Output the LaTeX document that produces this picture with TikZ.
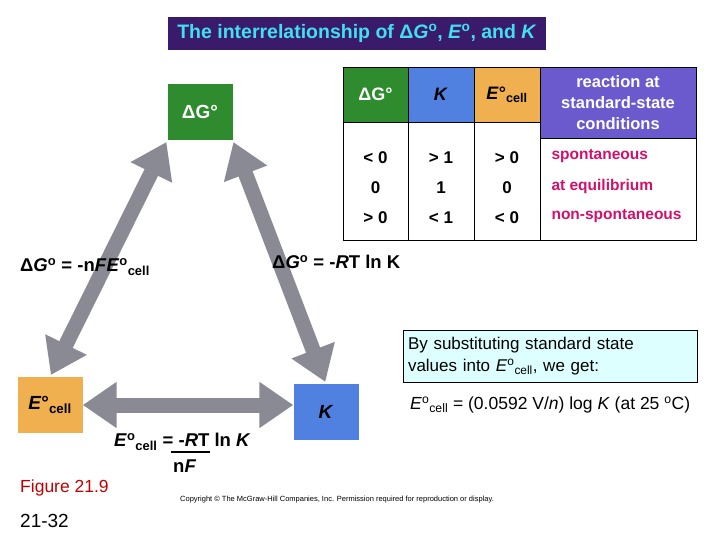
\documentclass[tikz,border=0pt]{standalone}
\usepackage{fontspec}
\setmainfont{Liberation Sans}
\usetikzlibrary{arrows.meta}
\definecolor{ttl}{HTML}{3A1A6A}
\definecolor{ttltxt}{HTML}{40E0F0}
\definecolor{grn}{HTML}{2E8B2E}
\definecolor{blu}{HTML}{5080E0}
\definecolor{org}{HTML}{F0B050}
\definecolor{pur}{HTML}{6A5ACD}
\definecolor{mag}{HTML}{D0106A}
\definecolor{lcy}{HTML}{DDFFFF}
\definecolor{arr}{HTML}{8A8A94}
\begin{document}
\begin{tikzpicture}[x=1pt,y=-1pt,
  box/.style={minimum width=65pt,minimum height=56pt,inner sep=0pt,font=\bfseries\fontsize{19}{21}\selectfont},
  cell/.style={font=\bfseries\fontsize{17}{19}\selectfont},
  bigarrow/.style={draw=arr,line width=15pt,{Triangle[length=34pt,width=44pt]}-{Triangle[length=34pt,width=44pt]}},
  lbl/.style={font=\bfseries\fontsize{18.5}{20}\selectfont,inner sep=0pt},
  t/.style={draw=black,line width=0.8pt}]
\useasboundingbox (0,0) rectangle (720,540);
% title
\node[fill=ttl,text=ttltxt,minimum width=378pt,minimum height=33pt,inner sep=0pt,font=\bfseries\fontsize{19.5}{21}\selectfont] (title) at (357,33.5) {The interrelationship of Δ\textit{G}\textsuperscript{o}, \textit{E}\textsuperscript{o}, and \textit{K}};
% triangle boxes
\node[box,fill=grn,text=white] (G) at (200,112) {ΔG°};
\node[box,fill=org,text=black] (E) at (50,405) {\textit{E}°\textsubscript{cell}};
\node[box,fill=blu,text=black] (K) at (326,412) {\textit{K}};
% arrows
\draw[bigarrow,shorten <=2pt,shorten >=2pt] (G.south west) -- (E.north);
\draw[bigarrow,shorten <=2pt,shorten >=2pt] (G.south east) -- (K.north);
\draw[bigarrow] (E.east) -- (E.east -| K.west);
% table
\node[fill=grn,text=white,minimum width=65pt,minimum height=55pt,inner sep=0pt,font=\bfseries\fontsize{18}{20}\selectfont] (h1) at (375.5,94.5) {ΔG°};
\node[fill=blu,text=black,minimum width=66pt,minimum height=55pt,inner sep=0pt,font=\bfseries\fontsize{18}{20}\selectfont] (h2) at (441,94.5) {\textit{K}};
\node[fill=org,text=black,minimum width=66pt,minimum height=55pt,inner sep=0pt,font=\bfseries\fontsize{18}{20}\selectfont] (h3) at (507,94.5) {\textit{E}°\textsubscript{cell}};
\node[fill=pur,text=white,minimum width=156pt,minimum height=71pt,inner sep=0pt,align=center,font=\bfseries\fontsize{16.5}{21}\selectfont] (h4) at (618,102.5) {reaction at\\standard-state\\conditions};
\draw[t] (343,67) rectangle (696,240);
\draw[t] (408,67) -- (408,240);
\draw[t] (474,67) -- (474,240);
\draw[t] (540,67) -- (540,240);
\draw[t] (343,122) -- (540,122);
\draw[t] (540,138) -- (696,138);
\foreach \y/\a/\b/\c/\d in {158/{< 0}/{> 1}/{> 0}/spontaneous,188/0/1/0/at equilibrium,218/{> 0}/{< 1}/{< 0}/non-spontaneous}{
  \node[cell] at (375.5,\y) {\a};
  \node[cell] at (441,\y) {\b};
  \node[cell] at (507,\y) {\c};
  \node[cell,text=mag,anchor=west,font=\bfseries\fontsize{15.5}{17}\selectfont] at (548,\y-2) {\d};
}
% equation labels
\node[lbl,anchor=west] (eq1) at (20,267) {Δ\textit{G}\textsuperscript{o} = -n\textit{F}\textit{E}\textsuperscript{o}\textsubscript{cell}};
\node[lbl,anchor=west] (eq2) at (272,262) {Δ\textit{G}\textsuperscript{o} = -\textit{R}T ln K};
\node[lbl,anchor=west] (eq3) at (114,442) {\textit{E}\textsuperscript{o}\textsubscript{cell} = -\textit{R}T ln \textit{K}};
\coordinate (barL) at (171,452);
\coordinate (barR) at (210,452);
\draw[line width=1.5pt] (barL) -- (barR);
\node[lbl,anchor=west] (eq3b) at (173,466) {n\textit{F}};
% info box
\node[draw=black,fill=lcy,minimum width=294pt,minimum height=52pt,inner sep=5pt,text width=284pt,align=left,font=\fontsize{17}{22}\selectfont] (info) at (550,356) {By substituting standard state\\values into \textit{E}\textsuperscript{o}\textsubscript{cell}, we get:};
\node[lbl,anchor=west,font=\fontsize{17.5}{19}\selectfont] (eq4) at (410,405) {\textit{E}\textsuperscript{o}\textsubscript{cell} = (0.0592 V/\textit{n}) log \textit{K} (at 25 \textsuperscript{o}C)};
% footer
\node[anchor=west,text=red!75!black,font=\fontsize{17.5}{19}\selectfont,inner sep=0pt] (fig) at (20,488) {Figure 21.9};
\node[anchor=west,font=\fontsize{19}{21}\selectfont,inner sep=0pt] (pg) at (20,521) {21-32};
\node[anchor=west,font=\fontsize{7.5}{8}\selectfont,inner sep=0pt] (copy) at (180,500) {Copyright © The McGraw-Hill Companies, Inc. Permission required for reproduction or display.};
\end{tikzpicture}
\end{document}
